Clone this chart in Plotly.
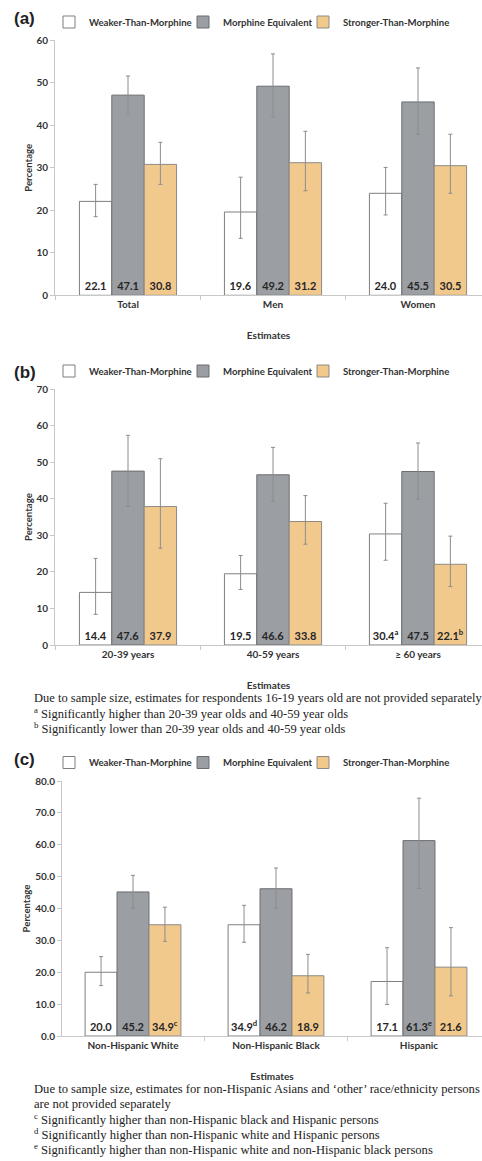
import plotly.graph_objects as go

# ---------------- data ----------------
series_names = ["Weaker-Than-Morphine", "Morphine Equivalent", "Stronger-Than-Morphine"]

cats_a = ["Total", "Men", "Women"]
weak_a = [22.1, 19.6, 24.0]
equiv_a = [47.1, 49.2, 45.5]
strong_a = [30.8, 31.2, 30.5]
weak_a_lo = [18.5, 13.4, 18.9]
weak_a_hi = [26.1, 27.8, 30.1]
equiv_a_lo = [42.7, 42.0, 37.9]
equiv_a_hi = [51.6, 56.8, 53.5]
strong_a_lo = [26.1, 24.6, 24.0]
strong_a_hi = [36.0, 38.6, 37.9]

cats_b = ["20-39 years", "40-59 years", "≥ 60 years"]
weak_b = [14.4, 19.5, 30.4]
equiv_b = [47.6, 46.6, 47.5]
strong_b = [37.9, 33.8, 22.1]
weak_b_lo = [8.4, 15.2, 23.2]
weak_b_hi = [23.7, 24.5, 38.8]
equiv_b_lo = [38.0, 39.3, 39.9]
equiv_b_hi = [57.4, 54.1, 55.3]
strong_b_lo = [26.5, 27.6, 16.0]
strong_b_hi = [51.0, 40.9, 29.8]
weak_b_sup = ["", "", "a"]
equiv_b_sup = ["", "", ""]
strong_b_sup = ["", "", "b"]

cats_c = ["Non-Hispanic White", "Non-Hispanic Black", "Hispanic"]
weak_c = [20.0, 34.9, 17.1]
equiv_c = [45.2, 46.2, 61.3]
strong_c = [34.9, 18.9, 21.6]
weak_c_lo = [15.8, 29.4, 9.9]
weak_c_hi = [24.9, 41.0, 27.7]
equiv_c_lo = [40.1, 40.1, 46.3]
equiv_c_hi = [50.4, 52.7, 74.6]
strong_c_lo = [29.7, 13.5, 12.6]
strong_c_hi = [40.4, 25.6, 34.0]
weak_c_sup = ["", "d", ""]
equiv_c_sup = ["", "", "e"]
strong_c_sup = ["c", "", ""]

notes_b = [
    "Due to sample size, estimates for respondents 16-19 years old are not provided separately",
    "<sup>a</sup> Significantly higher than 20-39 year olds and 40-59 year olds",
    "<sup>b</sup> Significantly lower than 20-39 year olds and 40-59 year olds",
]
notes_c = [
    "Due to sample size, estimates for non-Hispanic Asians and ‘other’ race/ethnicity persons",
    "are not provided separately",
    "<sup>c</sup> Significantly higher than non-Hispanic black and Hispanic persons",
    "<sup>d</sup> Significantly higher than non-Hispanic white and Hispanic persons",
    "<sup>e</sup> Significantly higher than non-Hispanic white and non-Hispanic black persons",
]

# ---------------- style ----------------
W, H = 482, 1161
FILL = ["#ffffff", "#9b9ea3", "#f2c98d"]
LINE = ["#7f7f7f", "#6c6d70", "#8e8a84"]
ERR = "#8c8c8c"
SANS = "Lato"
SERIF = "Liberation Serif"
LEG_X = [49, 183, 303]   # left edge of each legend box (px)


def px(x):
    return x / W


def py(y):
    return 1 - y / H


def fmt(vals, sups, dec=1):
    out = []
    for v, s in zip(vals, sups):
        t = f"{v:.{dec}f}"
        if s:
            t += f"<sup>{s}</sup>"
        out.append(t)
    return out


fig = go.Figure()

panels = [
    dict(cats=cats_a,
         vals=[weak_a, equiv_a, strong_a],
         lo=[weak_a_lo, equiv_a_lo, strong_a_lo],
         hi=[weak_a_hi, equiv_a_hi, strong_a_hi],
         sups=[["", "", ""]] * 3,
         ymax=60, ytop=40.3, ybot=295.3, xl=55, c0=128, step=145, fmt="",
         leg_y=22, lab="(a)", lab_y=19),
    dict(cats=cats_b,
         vals=[weak_b, equiv_b, strong_b],
         lo=[weak_b_lo, equiv_b_lo, strong_b_lo],
         hi=[weak_b_hi, equiv_b_hi, strong_b_hi],
         sups=[weak_b_sup, equiv_b_sup, strong_b_sup],
         ymax=70, ytop=389.3, ybot=645.0, xl=55, c0=128, step=145, fmt="",
         leg_y=371, lab="(b)", lab_y=372),
    dict(cats=cats_c,
         vals=[weak_c, equiv_c, strong_c],
         lo=[weak_c_lo, equiv_c_lo, strong_c_lo],
         hi=[weak_c_hi, equiv_c_hi, strong_c_hi],
         sups=[weak_c_sup, equiv_c_sup, strong_c_sup],
         ymax=80, ytop=781.0, ybot=1036.0, xl=62, c0=133, step=143, fmt=".1f",
         leg_y=762.5, lab="(c)", lab_y=759),
]

layout_axes = {}
annotations = []
for i, p in enumerate(panels):
    k = "" if i == 0 else str(i + 1)
    xa, ya = "x" + k, "y" + k
    for j in range(3):
        v = p["vals"][j]
        n = i * 3 + j
        leg = "legend" if n == 0 else f"legend{n + 1}"
        fig.add_trace(go.Bar(
            x=p["cats"], y=v, name=series_names[j],
            xaxis=xa, yaxis=ya, legend=leg,
            marker=dict(color=FILL[j], line=dict(color=LINE[j], width=1)),
            text=fmt(v, p["sups"][j]),
            textposition="inside", insidetextanchor="start", textangle=0,
            constraintext="none",
            insidetextfont=dict(family=SANS, size=11, color="#262626", weight="bold"),
            error_y=dict(type="data", symmetric=False,
                         array=[h - a for h, a in zip(p["hi"][j], v)],
                         arrayminus=[a - l for l, a in zip(p["lo"][j], v)],
                         color=ERR, thickness=1, width=2),
            hoverinfo="skip",
        ))
        layout_axes[leg] = dict(
            orientation="h", x=px(LEG_X[j]), xanchor="left",
            y=py(p["leg_y"]), yanchor="middle",
            font=dict(family=SANS, size=9.6, color="#333333", weight="bold"),
            bgcolor="rgba(0,0,0,0)", itemclick=False, itemdoubleclick=False,
        )
    left = (p["xl"] - p["c0"]) / p["step"]
    right = (W - p["c0"]) / p["step"]
    layout_axes["xaxis" + k] = dict(
        domain=[px(p["xl"]), 1.0], anchor=ya, type="category",
        range=[left, right], tickson="boundaries", ticks="outside", ticklen=4,
        tickcolor="#c8c8c8", showline=True, linecolor="#c8c8c8", linewidth=1,
        showgrid=False, zeroline=False,
        tickfont=dict(family=SANS, size=10, color="#333333", weight="bold"),
        title=dict(text="Estimates", standoff=22,
                   font=dict(family=SANS, size=10, color="#333333", weight="bold")),
        automargin=False, fixedrange=True,
    )
    layout_axes["yaxis" + k] = dict(
        domain=[py(p["ybot"]), py(p["ytop"])], anchor=xa,
        range=[0, p["ymax"]], dtick=10, tickformat=p["fmt"],
        ticks="outside", ticklen=4, tickcolor="#c8c8c8",
        showline=True, linecolor="#c8c8c8", linewidth=1,
        showgrid=False, zeroline=False,
        tickfont=dict(family=SANS, size=10, color="#333333", weight="bold"),
        title=dict(text="Percentage", standoff=2,
                   font=dict(family=SANS, size=9.6, color="#333333", weight="bold")),
        automargin=False, fixedrange=True,
    )
    annotations.append(dict(
        text=p["lab"], x=px(12), y=py(p["lab_y"]), xref="paper", yref="paper",
        xanchor="left", yanchor="middle", showarrow=False,
        font=dict(family="Liberation Sans", size=17, color="#222222", weight="bold"),
    ))

for n, t in enumerate(notes_b):
    annotations.append(dict(
        text=t, x=px(32), y=py(698 + 15 * n), xref="paper", yref="paper",
        xanchor="left", yanchor="middle", showarrow=False, align="left",
        font=dict(family=SERIF, size=12.5, color="#222222"),
    ))
for n, t in enumerate(notes_c):
    annotations.append(dict(
        text=t, x=px(32), y=py(1089.3 + 15 * n), xref="paper", yref="paper",
        xanchor="left", yanchor="middle", showarrow=False, align="left",
        font=dict(family=SERIF, size=12.6, color="#222222"),
    ))

fig.update_layout(
    width=W, height=H, margin=dict(l=0, r=0, t=0, b=0),
    paper_bgcolor="white", plot_bgcolor="white",
    barmode="group", bargap=0.33, bargroupgap=0,
    annotations=annotations, showlegend=True,
    **layout_axes,
)

fig.write_html(
    "out.html",
    config={"displayModeBar": False},
    post_script="document.body.style.margin='0';document.body.style.overflow='hidden';",
)
